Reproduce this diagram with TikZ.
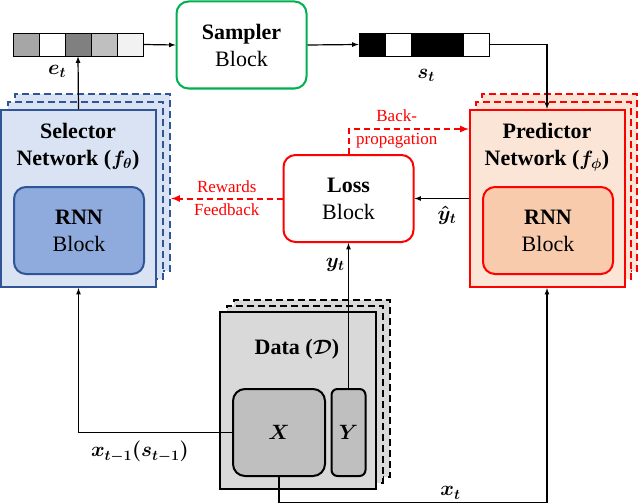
\documentclass[tikz,border=0pt]{standalone}
\usepackage{amsmath}
\usepackage{fontspec}
\setmainfont{Liberation Serif}
\usetikzlibrary{arrows,calc,positioning}
\definecolor{selfill}{HTML}{DAE3F3}
\definecolor{selline}{HTML}{2F5597}
\definecolor{selrnn}{HTML}{8FAADC}
\definecolor{predfill}{HTML}{FBE5D6}
\definecolor{predrnn}{HTML}{F8CBAD}
\definecolor{datafill}{HTML}{D9D9D9}
\definecolor{xyfill}{HTML}{BFBFBF}
\definecolor{sampgreen}{HTML}{00B050}
\tikzset{%
	cell/.style     = {draw, rectangle, line width=0.8pt, minimum width=26pt, minimum height=23pt, inner sep=0pt}, % vector entry
	block/.style    = {draw, rectangle, rounded corners=12pt, line width=2pt, minimum width=130pt, minimum height=87pt, inner sep=0pt, align=center, font=\fontsize{22}{27}\selectfont},
	layer/.style    = {draw, rectangle, line width=2pt, minimum width=155pt, minimum height=177pt, inner sep=0pt}, % stacked network
	backlayer/.style= {layer, dash pattern=on 7pt off 4pt},
	boxtext/.style  = {align=center, font=\fontsize{22}{27}\selectfont},
	mathlbl/.style  = {font=\fontsize{22}{26}\selectfont\boldmath}, % signal
	note/.style     = {align=center, text=red, font=\fontsize{17}{21}\selectfont},
	arrow/.style    = {line width=1.2pt, ->, >=latex},
	feedback/.style = {line width=2pt, red, dash pattern=on 6pt off 4pt, ->, >=latex},
}
\begin{document}
\begin{tikzpicture}[x=1pt,y=-1pt]
		\useasboundingbox (0,0) rectangle (640,503);
		% vectors and sampler
		\foreach \c [count=\i] in {gray!70, white, gray, gray!50, gray!10}
			\node [cell, fill=\c] (e\i) at ({26*\i},44.5) {};
		\foreach \c [count=\i] in {black, white, black, black, white}
			\node [cell, fill=\c] (s\i) at ({346+26*\i},44.5) {};
		\node [block, draw=sampgreen] (samp) at (241.5,45) {\textbf{Sampler}\\Block};
		\node [mathlbl] (et) at (57,71) {$e_t$};
		\node [mathlbl] (st) at (426,75) {$s_t$};
		
		% selector network
		\node [backlayer, fill=selfill, draw=selline] (sel3) at (92.5,182.5) {};
		\node [backlayer, fill=selfill, draw=selline] (sel2) at (85.5,190.5) {};
		\node [layer, fill=selfill, draw=selline] (sel) at (78.5,198.5) {};
		\node [boxtext] (seltext) at (78,147) {\textbf{Selector}\\\textbf{Network (}{\boldmath$f_{\theta}$}\textbf{)}};
		\node [block, fill=selrnn, draw=selline] (selrnn) at (79,230.5) {\textbf{RNN}\\Block};
		
		% predictor network
		\node [backlayer, fill=predfill, draw=red] (pred3) at (559,182.5) {};
		\node [backlayer, fill=predfill, draw=red] (pred2) at (553,190.5) {};
		\node [layer, fill=predfill, draw=red] (pred) at (547,198.5) {};
		\node [boxtext] (predtext) at (547,147) {\textbf{Predictor}\\\textbf{Network (}{\boldmath$f_{\phi}$}\textbf{)}};
		\node [block, fill=predrnn, draw=red] (predrnn) at (548,230.5) {\textbf{RNN}\\Block};
		
		\node [block, draw=red, fill=white] (loss) at (348.5,198.5) {\textbf{Loss}\\Block};
		
		% data
		\node [backlayer, fill=datafill, draw=black, minimum width=156pt] (data3) at (312,388) {};
		\node [backlayer, fill=datafill, draw=black, minimum width=156pt] (data2) at (305,394) {};
		\node [layer, fill=datafill, draw=black, minimum width=156pt] (data) at (298,400.5) {};
		\node [boxtext] (datatext) at (297,349) {\textbf{Data (}{\boldmath$\mathcal{D}$}\textbf{)}};
		\node [block, mathlbl, fill=xyfill, draw=black, minimum width=92pt] (xbox) at (279,432.5) {$X$};
		\node [block, mathlbl, fill=xyfill, draw=black, minimum width=34pt, rounded corners=6pt] (ybox) at (348.5,432.5) {$Y$};
		\coordinate (bp) at (469,129);
		
		\draw[arrow] (e5.east) -- (samp.west);
		\draw[arrow] (samp.east) -- (s1.west);
		\draw[arrow] (sel.north) -- (e3.south);
		\draw[arrow] (s5.east) -| (pred.north);
		\draw[arrow] (pred.west) -- node[mathlbl, below, pos=0.4, yshift=-4pt] {$\hat{y}_t$} (loss.east);
		\draw[arrow] (ybox.north) -- node[mathlbl, left, pos=0.85] {$y_t$} (loss.south);
		\draw[arrow] (xbox.west) -| node[mathlbl, below, pos=0.3, yshift=-5pt] {$x_{t-1}(s_{t-1})$} (sel.south);
		\draw[arrow] (xbox.south) -- ++(0,26) -| node[mathlbl, above, pos=0.32] {$x_t$} (pred.south);
		\draw[feedback] (loss.west) -- node[note] {Rewards\\[2pt]Feedback} (loss.west -| sel3.east);
		\draw[feedback] (loss.north) |- node[note, pos=0.7] {Back-\\[2pt]propagation} (bp);
	\end{tikzpicture}
\end{document}
